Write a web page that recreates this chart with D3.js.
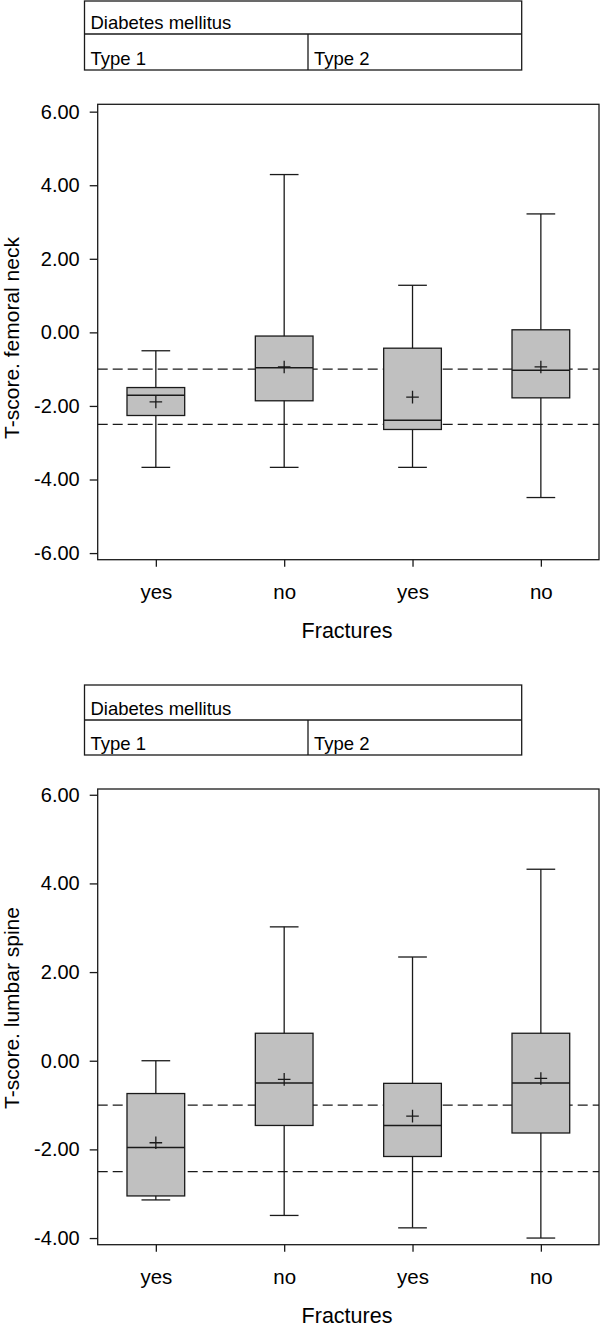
<!DOCTYPE html>
<html>
<head>
<meta charset="utf-8">
<script src="https://cdn.jsdelivr.net/npm/d3@7"></script>
<style>
  body { margin: 0; background: #fff; }
  svg { display: block; font-family: "Liberation Sans", Arial, sans-serif; }
</style>
</head>
<body>
<svg id="chart" width="600" height="1328"></svg>
<script>
// categories
var fractures = ["yes", "no", "yes", "no"];
var diabetesTypes = ["Type 1", "Type 2"];
var headerTitle = "Diabetes mellitus";
var xTitle = "Fractures";

// femoral neck box stats
var neckMin    = [-3.67, -3.67, -3.67, -4.49];
var neckQ1     = [-2.26, -1.86, -2.64, -1.78];
var neckMedian = [-1.71, -0.96, -2.39, -1.03];
var neckQ3     = [-1.50, -0.10, -0.43,  0.07];
var neckMax    = [-0.50,  4.29,  1.28,  3.22];
var neckMean   = [-1.89, -0.94, -1.76, -0.94];
var neckTicks  = [6, 4, 2, 0, -2, -4, -6];

// lumbar spine box stats
var spineMin    = [-3.14, -3.49, -3.77, -4.00];
var spineQ1     = [-3.05, -1.46, -2.16, -1.63];
var spineMedian = [-1.96, -0.50, -1.46, -0.50];
var spineQ3     = [-0.74,  0.62, -0.51,  0.62];
var spineMax    = [ 0.00,  3.02,  2.34,  4.32];
var spineMean   = [-1.85, -0.42, -1.25, -0.40];
var spineTicks  = [6, 4, 2, 0, -2, -4];

// WHO thresholds (dashed)
var refLines = [-1, -2.5];

var ink = "#1a1a1a";
var svg = d3.select("#chart");

function drawHeader(top, mid, bottom) {
    var left = 84.5, right = 521.7, split = 308;
    var g = svg.append("g");
    g.append("rect")
        .attr("x", left).attr("y", top)
        .attr("width", right - left).attr("height", bottom - top)
        .attr("fill", "none").attr("stroke", ink).attr("stroke-width", 1.3);
    g.append("line")
        .attr("x1", left).attr("x2", right).attr("y1", mid).attr("y2", mid)
        .attr("stroke", ink).attr("stroke-width", 1.3);
    g.append("line")
        .attr("x1", split).attr("x2", split).attr("y1", mid).attr("y2", bottom)
        .attr("stroke", ink).attr("stroke-width", 1.3);
    g.append("text")
        .attr("x", left + 6).attr("y", mid - 5)
        .attr("font-size", 18.5).attr("fill", "#000")
        .text(headerTitle);
    g.selectAll(".type")
        .data(diabetesTypes)
        .enter().append("text")
        .attr("class", "type")
        .attr("x", function (d, i) { return (i === 0 ? left : split) + 6; })
        .attr("y", bottom - 5)
        .attr("font-size", 18.5).attr("fill", "#000")
        .text(function (d) { return d; });
}

function drawPanel(opt) {
    var left = 97.7, right = 599;
    var top = opt.top, bottom = opt.bottom;

    var x = d3.scalePoint()
        .domain(d3.range(fractures.length))
        .range([left, right])
        .padding(0.453);
    var y = d3.scaleLinear()
        .domain(opt.domain)
        .range([bottom, top]);

    var g = svg.append("g");

    // frame
    g.append("rect")
        .attr("x", left).attr("y", top)
        .attr("width", right - left).attr("height", bottom - top)
        .attr("fill", "none").attr("stroke", ink).attr("stroke-width", 1.3);

    // axes
    var yAxis = g.append("g")
        .attr("transform", "translate(" + left + ",0)")
        .call(d3.axisLeft(y)
            .tickValues(opt.ticks)
            .tickFormat(function (d) { return d.toFixed(2); })
            .tickSize(8).tickSizeOuter(0).tickPadding(10));
    yAxis.select(".domain").remove();
    yAxis.selectAll("line").attr("stroke", ink).attr("stroke-width", 1.3);
    yAxis.selectAll("text")
        .attr("font-size", 20).attr("font-family", null).attr("fill", "#000");

    var xAxis = g.append("g")
        .attr("transform", "translate(0," + bottom + ")")
        .call(d3.axisBottom(x)
            .tickFormat(function (i) { return fractures[i]; })
            .tickSize(7).tickSizeOuter(0));
    xAxis.select(".domain").remove();
    xAxis.selectAll("line").attr("stroke", ink).attr("stroke-width", 1.3);
    xAxis.selectAll("text")
        .attr("y", 39).attr("dy", 0)
        .attr("font-size", 20.5).attr("font-family", null).attr("fill", "#000");

    // axis titles
    g.append("text")
        .attr("transform", "translate(18.5," + opt.titleY + ") rotate(-90)")
        .attr("text-anchor", "middle")
        .attr("font-size", 21).attr("fill", "#000")
        .text(opt.yTitle);
    g.append("text")
        .attr("x", 347).attr("y", bottom + 78)
        .attr("text-anchor", "middle")
        .attr("font-size", 21.5).attr("fill", "#000")
        .text(xTitle);

    // dashed reference lines
    g.selectAll(".ref")
        .data(refLines)
        .enter().append("line")
        .attr("class", "ref")
        .attr("x1", left).attr("x2", right)
        .attr("y1", function (d) { return y(d); })
        .attr("y2", function (d) { return y(d); })
        .attr("stroke", ink).attr("stroke-width", 1.3)
        .attr("stroke-dasharray", "10,5");

    var boxW = 57.7, capW = 28.7, plus = 6.3;
    var s = opt.stats;
    var boxes = g.selectAll(".box")
        .data(d3.range(fractures.length))
        .enter().append("g")
        .attr("class", "box");

    // whisker stem
    boxes.append("line")
        .attr("x1", function (i) { return x(i); })
        .attr("x2", function (i) { return x(i); })
        .attr("y1", function (i) { return y(s.min[i]); })
        .attr("y2", function (i) { return y(s.max[i]); })
        .attr("stroke", ink).attr("stroke-width", 1.3);
    // caps
    ["min", "max"].forEach(function (k) {
        boxes.append("line")
            .attr("x1", function (i) { return x(i) - capW / 2; })
            .attr("x2", function (i) { return x(i) + capW / 2; })
            .attr("y1", function (i) { return y(s[k][i]); })
            .attr("y2", function (i) { return y(s[k][i]); })
            .attr("stroke", ink).attr("stroke-width", 1.3);
    });
    // box
    boxes.append("rect")
        .attr("x", function (i) { return x(i) - boxW / 2; })
        .attr("y", function (i) { return y(s.q3[i]); })
        .attr("width", boxW)
        .attr("height", function (i) { return y(s.q1[i]) - y(s.q3[i]); })
        .attr("fill", "#c0c0c0").attr("stroke", ink).attr("stroke-width", 1.3);
    // median
    boxes.append("line")
        .attr("x1", function (i) { return x(i) - boxW / 2; })
        .attr("x2", function (i) { return x(i) + boxW / 2; })
        .attr("y1", function (i) { return y(s.median[i]); })
        .attr("y2", function (i) { return y(s.median[i]); })
        .attr("stroke", ink).attr("stroke-width", 1.5);
    // mean (+)
    boxes.append("path")
        .attr("d", function (i) {
            var cx = x(i), cy = y(s.mean[i]);
            return "M" + (cx - plus) + "," + cy + "H" + (cx + plus) +
                "M" + cx + "," + (cy - plus) + "V" + (cy + plus);
        })
        .attr("stroke", ink).attr("stroke-width", 1.3).attr("fill", "none");
}

drawHeader(1, 34, 70);
drawPanel({
    top: 104.3, bottom: 559.7, domain: [-6.18, 6.2],
    ticks: neckTicks, yTitle: "T-score. femoral neck", titleY: 338,
    stats: { min: neckMin, q1: neckQ1, median: neckMedian, q3: neckQ3, max: neckMax, mean: neckMean }
});

drawHeader(685, 720, 755);
drawPanel({
    top: 789, bottom: 1244.7, domain: [-4.15, 6.13],
    ticks: spineTicks, yTitle: "T-score. lumbar spine", titleY: 1008,
    stats: { min: spineMin, q1: spineQ1, median: spineMedian, q3: spineQ3, max: spineMax, mean: spineMean }
});
</script>
</body>
</html>
